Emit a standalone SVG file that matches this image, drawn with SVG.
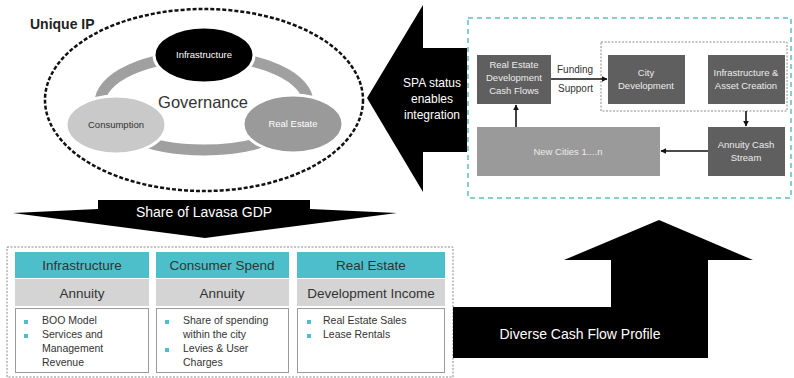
<svg xmlns="http://www.w3.org/2000/svg" width="794" height="378" viewBox="0 0 794 378">
<style>
text{font-family:"Liberation Sans",Arial,sans-serif}
.c{text-anchor:middle}
.box{fill:#5f5f5f}
.bt{fill:#ececec;font-size:9.5px;text-anchor:middle}
.hdr{fill:#4dbfca}
.sub{fill:#d4d4d4}
.wb{fill:#fff;stroke:#9a9a9a;stroke-width:1}
.ht{fill:#333;font-size:13.5px;text-anchor:middle}
.li{fill:#333;font-size:10.5px}
.bul{fill:#4dbfca}
.con{stroke:#111;stroke-width:1.6;fill:none;marker-end:url(#ah)}
.big{fill:#000}
.wt{fill:#fff}
</style>
<defs>
<marker id="ah" viewBox="0 0 10 10" refX="9" refY="5" markerWidth="6" markerHeight="6" orient="auto" markerUnits="userSpaceOnUse">
<path d="M0,0 L10,5 L0,10 z" fill="#111"/>
</marker>
</defs>
<rect width="794" height="378" fill="#fff"/>

<g id="unique-ip">
<ellipse cx="204" cy="100" rx="159" ry="91" fill="none" stroke="#111" stroke-width="2.5" stroke-dasharray="4 2"/>
<text x="30" y="29" font-size="14" font-weight="bold" fill="#222">Unique IP</text>
<ellipse cx="204" cy="103" rx="104" ry="47" fill="none" stroke="#a0a0a0" stroke-width="11"/>
<text x="203" y="108" class="c" font-size="16.5" fill="#333">Governance</text>
</g>
<g id="infrastructure-node">
<ellipse cx="204" cy="55" rx="50" ry="28" fill="#000" stroke="#fff" stroke-width="3"/>
<text x="204" y="58" class="c" font-size="9.5" fill="#fff">Infrastructure</text>
</g>
<g id="consumption-node">
<ellipse cx="116" cy="125" rx="50" ry="29" fill="#c9c9c9" stroke="#fff" stroke-width="3"/>
<text x="116" y="128" class="c" font-size="9.5" fill="#333">Consumption</text>
</g>
<g id="realestate-node">
<ellipse cx="293" cy="124" rx="50" ry="29" fill="#9a9a9a" stroke="#fff" stroke-width="3"/>
<text x="293" y="127" class="c" font-size="9.5" fill="#fff">Real Estate</text>
</g>

<g id="spa-arrow">
<polygon class="big" points="467,48 423,48 423,5 367,98 423,192 423,152 467,152"/>
<text x="432" y="87" class="c wt" font-size="12">SPA status</text>
<text x="432" y="103" class="c wt" font-size="12">enables</text>
<text x="432" y="119" class="c wt" font-size="12">integration</text>
</g>

<g id="integration-panel">
<rect x="468" y="18" width="323" height="180" fill="none" stroke="#5bbfc6" stroke-width="1.5" stroke-dasharray="5 4"/>
<rect x="601" y="42" width="186" height="69" fill="none" stroke="#8a8a8a" stroke-width="1" stroke-dasharray="2 1.5"/>
</g>
<g id="re-cashflows">
<rect class="box" x="477" y="55" width="74" height="49"/>
<text class="bt" x="514" y="68">Real Estate</text>
<text class="bt" x="514" y="81">Development</text>
<text class="bt" x="514" y="94">Cash Flows</text>
</g>
<g id="city-development">
<rect class="box" x="608" y="55" width="77" height="49"/>
<text class="bt" x="646" y="76">City</text>
<text class="bt" x="646" y="89">Development</text>
</g>
<g id="infra-asset">
<rect class="box" x="708" y="55" width="77" height="49"/>
<text class="bt" x="746" y="76">Infrastructure &amp;</text>
<text class="bt" x="746" y="89">Asset Creation</text>
</g>
<g id="annuity-cash">
<rect class="box" x="708" y="127" width="77" height="49"/>
<text class="bt" x="746" y="148">Annuity Cash</text>
<text class="bt" x="746" y="161">Stream</text>
</g>
<g id="new-cities">
<rect x="477" y="127" width="183" height="49" fill="#9a9a9a"/>
<text class="bt" x="568" y="155">New Cities 1....n</text>
</g>
<g id="connectors">
<line class="con" x1="551" y1="79" x2="607" y2="79"/>
<text x="557" y="73" font-size="10" fill="#333">Funding</text>
<text x="558" y="92" font-size="10" fill="#333">Support</text>
<line class="con" x1="746" y1="111" x2="746" y2="126"/>
<line class="con" x1="708" y1="151" x2="661" y2="151"/>
<line class="con" x1="516" y1="127" x2="516" y2="105"/>
</g>

<g id="gdp-arrow">
<polygon class="big" points="98,200 310,200 310,209 397,213 205,238 13,213 98,209"/>
<text x="204" y="217" class="c wt" font-size="14">Share of Lavasa GDP</text>
</g>

<g id="revenue-panel">
<rect x="7" y="247" width="446" height="130" fill="none" stroke="#8a8a8a" stroke-width="1" stroke-dasharray="2 1.5"/>
</g>
<g id="col-infrastructure">
<rect class="hdr" x="15" y="252" width="134" height="26"/>
<text class="ht" x="82" y="270">Infrastructure</text>
<rect class="sub" x="15" y="279" width="134" height="27"/>
<text class="ht" x="82" y="298">Annuity</text>
<rect class="wb" x="15.5" y="308.5" width="133" height="64"/>
<rect class="bul" x="24" y="320" width="4" height="4"/>
<rect class="bul" x="24" y="334" width="4" height="4"/>
<text class="li" x="42" y="324">BOO Model</text>
<text class="li" x="42" y="338">Services and</text>
<text class="li" x="42" y="352">Management</text>
<text class="li" x="42" y="366">Revenue</text>
</g>
<g id="col-consumer">
<rect class="hdr" x="156" y="252" width="133" height="26"/>
<text class="ht" x="222" y="270">Consumer Spend</text>
<rect class="sub" x="156" y="279" width="133" height="27"/>
<text class="ht" x="222" y="298">Annuity</text>
<rect class="wb" x="156.5" y="308.5" width="132" height="64"/>
<rect class="bul" x="165" y="320" width="4" height="4"/>
<rect class="bul" x="165" y="348" width="4" height="4"/>
<text class="li" x="183" y="324">Share of spending</text>
<text class="li" x="183" y="338">within the city</text>
<text class="li" x="183" y="352">Levies &amp; User</text>
<text class="li" x="183" y="366">Charges</text>
</g>
<g id="col-realestate">
<rect class="hdr" x="297" y="252" width="148" height="26"/>
<text class="ht" x="371" y="270">Real Estate</text>
<rect class="sub" x="297" y="279" width="148" height="27"/>
<text class="ht" x="371" y="298">Development Income</text>
<rect class="wb" x="297.5" y="308.5" width="147" height="64"/>
<rect class="bul" x="307" y="320" width="4" height="4"/>
<rect class="bul" x="307" y="334" width="4" height="4"/>
<text class="li" x="323" y="324">Real Estate Sales</text>
<text class="li" x="323" y="338">Lease Rentals</text>
</g>

<g id="cashflow-arrow">
<polygon class="big" points="453,307 611,307 611,260 564,260 659,220 753,260 708,260 708,358 453,358"/>
<text x="580" y="339" class="c wt" font-size="14">Diverse Cash Flow Profile</text>
</g>
</svg>
